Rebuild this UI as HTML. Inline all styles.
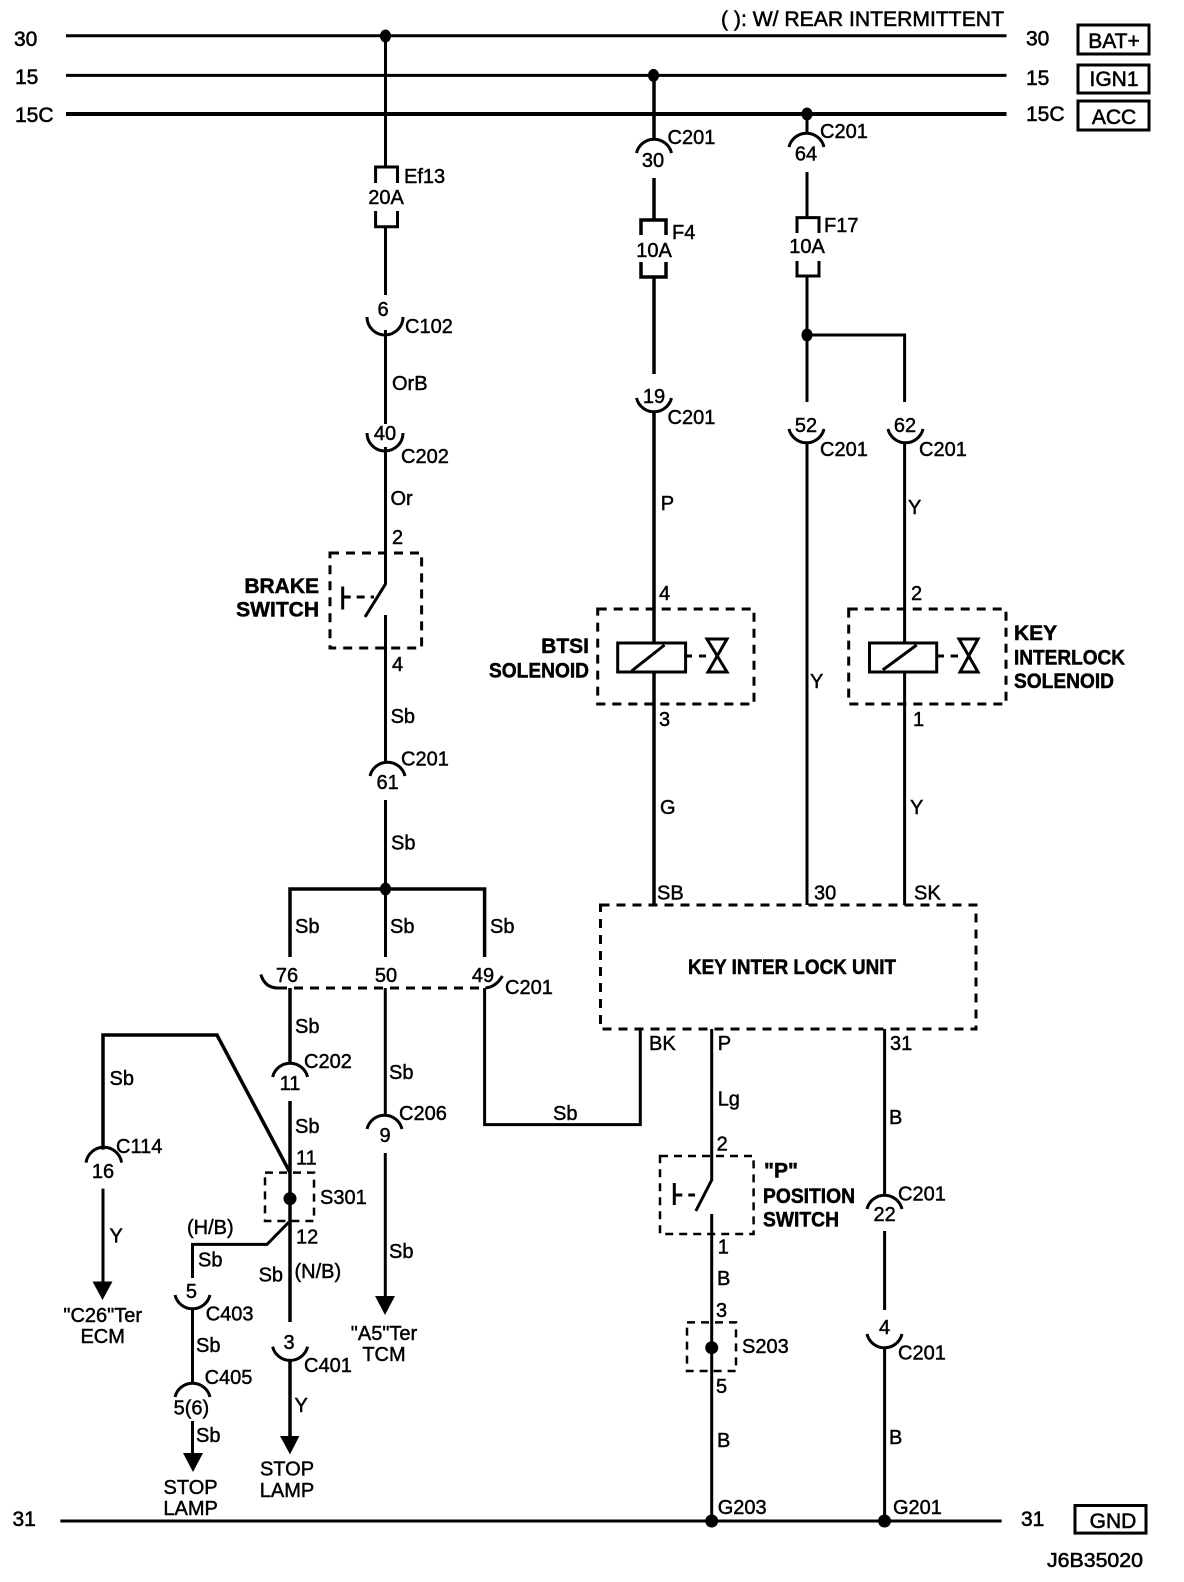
<!DOCTYPE html>
<html><head><meta charset="utf-8"><style>
html,body{margin:0;padding:0;background:#fff}
svg{display:block}
text{font-family:"Liberation Sans",sans-serif;font-size:20px;fill:#000;stroke:#000;stroke-width:.45px}
.n{font-size:21px;stroke-width:.55px}
.m{text-anchor:middle}
.b{font-weight:bold;font-size:21px;stroke-width:.5px}
.w{fill:none;stroke:#000;stroke-width:3;stroke-linecap:butt}
.t{fill:none;stroke:#000;stroke-width:4}
.d{fill:none;stroke:#000;stroke-width:3;stroke-dasharray:9 7}
.s{fill:none;stroke:#000;stroke-width:2.5;stroke-dasharray:8 6}
.f{fill:#000;stroke:none}
</style></head><body>
<svg width="1184" height="1582" viewBox="0 0 1184 1582" xmlns="http://www.w3.org/2000/svg">
<rect width="1184" height="1582" fill="#fff"/>
<!-- buses -->
<path class="w" d="M66 35.8H1006.5M66 75.4H1006.5"/>
<path class="t" d="M66 114H1006.5"/>
<path class="w" d="M60.4 1521H1001.6"/>
<text class="n" x="14" y="46">30</text><text class="n" x="15" y="84">15</text><text class="n" x="15" y="122">15C</text>
<text class="n" x="1026" y="45.6">30</text><text class="n" x="1026" y="85">15</text><text class="n" x="1026" y="121">15C</text>
<text class="n" x="12.5" y="1526">31</text><text class="n" x="1021" y="1526">31</text>
<text class="n" x="721" y="26" textLength="283" lengthAdjust="spacingAndGlyphs">( ): W/ REAR INTERMITTENT</text>
<rect class="w" x="1078" y="25" width="71" height="29"/><text class="n m" x="1114" y="48">BAT+</text>
<rect class="w" x="1078" y="65" width="71" height="28"/><text class="n m" x="1114" y="86">IGN1</text>
<rect class="w" x="1078" y="101" width="71" height="29"/><text class="n m" x="1114" y="124">ACC</text>
<rect class="w" x="1075" y="1505.5" width="71" height="27.6"/><text class="n m" x="1113" y="1528">GND</text>
<text x="1047" y="1567" textLength="96" lengthAdjust="spacingAndGlyphs" style="stroke-width:.55px">J6B35020</text>
<!-- dots -->
<ellipse class="f" cx="385.5" cy="36" rx="5.5" ry="6.5"/><ellipse class="f" cx="653.5" cy="75.4" rx="5.5" ry="6.5"/><ellipse class="f" cx="807" cy="114" rx="5.5" ry="6.5"/><ellipse class="f" cx="807" cy="335" rx="5.5" ry="6.5"/><ellipse class="f" cx="385.5" cy="889" rx="5.5" ry="6.5"/><circle class="f" cx="711.7" cy="1521" r="6.5"/><circle class="f" cx="884.5" cy="1521" r="6.5"/>
<!-- column 385 upper -->
<path class="w" d="M385.5 36V167M375.6 183V167H397.5V183M375.6 211V226.7H397.5V211M385.5 226.7V295"/>
<text x="404" y="183">Ef13</text><text class="m" x="386" y="204">20A</text>
<path class="w" d="M367 317A18 18 0 0 0 403 317"/><text class="m" x="383" y="316">6</text><text x="405" y="333">C102</text>
<path class="w" d="M385.5 330V424"/><text x="392" y="390">OrB</text>
<path class="w" d="M367 433A18 18 0 0 0 403 433"/><text class="m" x="385" y="440">40</text><text x="401" y="463">C202</text>
<path class="w" d="M385.5 447V584L365 617M385.5 615V761"/>
<text x="390.5" y="505">Or</text><text x="392" y="544">2</text>
<rect class="d" x="330" y="553" width="91.6" height="95"/>
<path class="w" d="M342.7 586.5V609.5"/><path class="w" stroke-dasharray="8 6" d="M342.7 597H374"/>
<text class="b" x="319" y="593" text-anchor="end">BRAKE</text><text class="b" x="319" y="616.6" text-anchor="end">SWITCH</text>
<text x="392" y="671">4</text><text x="390.6" y="723">Sb</text>
<path class="w" d="M370 776A18 18 0 0 1 405 776"/><text class="m" x="387.6" y="789">61</text><text x="401" y="765.7">C201</text>
<path class="w" d="M385.5 800V957"/><text x="391" y="849.5">Sb</text>
<path class="t" style="stroke-width:3.5" d="M290 957V889H484.6V957"/>
<text x="295" y="933">Sb</text><text x="390" y="933">Sb</text><text x="490" y="933">Sb</text>
<text class="m" x="287" y="982">76</text><text class="m" x="386" y="982">50</text><text class="m" x="483" y="982">49</text><text x="505" y="994">C201</text>
<path class="d" d="M278 988H485"/>
<path class="w" d="M260.8 974.5Q265 988 278 988M485.4 988Q496 987 502.4 976"/>
<path class="w" d="M290 988V1063" style="stroke-width:3.5"/>
<path class="w" d="M385.3 988V1115"/>
<path class="w" d="M484.6 988V1124.6H640.3V1029"/>
<!-- lower group, shifted -->
<g transform="translate(0,-9)">
<text x="295" y="1042">Sb</text>
<path class="w" d="M272.6 1086A18 18 0 0 1 307.6 1086"/><text class="m" x="290" y="1099">11</text><text x="304" y="1077">C202</text>
<path class="w" style="stroke-width:3.5" d="M290 1110V1331"/><text x="295" y="1142">Sb</text><text x="296" y="1173.4">11</text>
<rect class="s" x="265" y="1181.6" width="49" height="48.4"/>
<circle class="f" cx="290" cy="1207.6" r="6.5"/>
<text x="320" y="1213">S301</text><text x="296" y="1252.6">12</text>
<path class="t" style="stroke-width:3.5" d="M290 1181.6L217 1044H103V1158.6"/>
<text x="109.5" y="1094">Sb</text>
<path class="w" d="M86 1171.6A18 18 0 0 1 121.6 1171.6"/><text class="m" x="103" y="1187">16</text><text x="116" y="1162">C114</text>
<path class="w" d="M103 1197.6V1291"/><polygon class="f" points="92.5,1290.5 112.5,1290.5 102.5,1309"/>
<text x="109.5" y="1251.5">Y</text>
<text class="m" x="102.7" y="1331">"C26"Ter</text><text class="m" x="102.7" y="1352">ECM</text>
<path class="w" d="M289 1231L267 1253.4H192.5V1287"/>
<text x="187" y="1243">(H/B)</text><text x="198" y="1275.7">Sb</text><text x="258.6" y="1290.5">Sb</text><text x="294.5" y="1287">(N/B)</text>
<path class="w" d="M175 1304A18 18 0 0 0 210 1304"/><text class="m" x="191.4" y="1307">5</text><text x="205.7" y="1329.6">C403</text>
<path class="w" d="M192.5 1317V1392"/><text x="196" y="1361">Sb</text>
<path class="w" d="M175 1406A18 18 0 0 1 210 1406"/><text class="m" x="191.4" y="1423.6">5(6)</text><text x="204.6" y="1392.8">C405</text>
<path class="w" d="M192.5 1430V1463"/><polygon class="f" points="183,1462 203,1462 193,1481"/><text x="196" y="1451">Sb</text>
<text class="m" x="190.6" y="1503">STOP</text><text class="m" x="190.6" y="1524">LAMP</text>
<path class="w" d="M272.6 1355.6A18 18 0 0 0 307.6 1355.6"/><text class="m" x="289" y="1358">3</text><text x="304" y="1381">C401</text>
<path class="w" style="stroke-width:3.5" d="M290 1368.6V1446"/><polygon class="f" points="280,1445 299.4,1445 290,1463.4"/><text x="294.5" y="1421">Y</text>
<text class="m" x="287" y="1484.6">STOP</text><text class="m" x="287" y="1506">LAMP</text>
<text x="389" y="1088">Sb</text>
<path class="w" d="M367 1138A18 18 0 0 1 402 1138"/><text class="m" x="385" y="1151">9</text><text x="399" y="1129">C206</text>
<path class="w" d="M385.3 1162V1306"/><polygon class="f" points="375,1305 395,1305 385,1324"/><text x="389" y="1267">Sb</text>
<text class="m" x="384" y="1349">"A5"Ter</text><text class="m" x="384" y="1370">TCM</text>
<text x="553" y="1129">Sb</text>
<text x="649" y="1059">BK</text><text x="717.7" y="1059">P</text><text x="890" y="1059">31</text>
<text x="717.7" y="1114.7">Lg</text><text x="716.6" y="1159.7">2</text>
<rect class="s" x="660" y="1165" width="93.6" height="78"/>
<path class="w" d="M674.3 1192V1214"/><path class="w" stroke-dasharray="8 6" d="M674.3 1204H695"/>
<text class="b" x="764" y="1186.4">"P"</text><text class="b" x="763" y="1212" textLength="92" lengthAdjust="spacingAndGlyphs">POSITION</text><text class="b" x="763" y="1235.5" textLength="76" lengthAdjust="spacingAndGlyphs">SWITCH</text>
<text x="717.7" y="1262.6">1</text><text x="717" y="1294">B</text><text x="716" y="1326">3</text>
<rect class="s" x="687" y="1331.4" width="49" height="48.6"/><circle class="f" cx="711.7" cy="1356.7" r="6.5"/><text x="742" y="1362">S203</text>
<text x="716" y="1402">5</text><text x="717" y="1456">B</text><text x="717.7" y="1523">G203</text>
<text x="889" y="1133">B</text>
<path class="w" d="M867 1218A18 18 0 0 1 902 1218"/><text class="m" x="884.6" y="1230">22</text><text x="898" y="1209.5">C201</text>
<path class="w" d="M884.6 1240V1319"/>
<path class="w" d="M867 1343A18 18 0 0 0 902 1343"/><text class="m" x="884.6" y="1343">4</text><text x="898" y="1368.6">C201</text>
<text x="889" y="1453">B</text><text x="893" y="1523">G201</text>
</g>
<!-- col 654 -->
<path class="w" style="stroke-width:3.5" d="M654 75V139"/>
<path class="w" d="M636.5 153A18 18 0 0 1 671.5 153"/><text class="m" x="653" y="167">30</text><text x="667.5" y="144">C201</text>
<path class="w" style="stroke-width:3.5" d="M654 178V220M641 235V220H666V235M641 262V277H666V262M654 277V374"/>
<text x="672" y="239">F4</text><text class="m" x="654" y="257">10A</text>
<path class="w" d="M636.5 398A18 18 0 0 0 671.5 398"/><text class="m" x="654" y="403">19</text><text x="667.5" y="424">C201</text>
<path class="w" style="stroke-width:3.5" d="M654 412V643M654 672V905"/>
<text x="660.7" y="510">P</text><text x="659" y="600">4</text><text x="659" y="726">3</text><text x="660" y="814">G</text><text x="657" y="899.5">SB</text>
<rect class="d" x="597.7" y="609" width="156.3" height="95"/>
<rect class="w" x="617.7" y="643" width="67.9" height="29"/><path class="w" d="M631.6 671L664.5 645"/>
<path class="w" d="M685.6 656H692M699 656H706"/>
<path class="w" d="M707 639H727L708 672H727Z"/>
<text class="b" x="589" y="653" text-anchor="end">BTSI</text><text class="b" x="589" y="677.5" text-anchor="end" textLength="100" lengthAdjust="spacingAndGlyphs">SOLENOID</text>
<!-- col 807 -->
<path class="w" d="M807 114V134"/>
<path class="w" d="M789 147A18 18 0 0 1 824 147"/><text class="m" x="806" y="160.5">64</text><text x="820" y="138">C201</text>
<path class="w" d="M807 172V217.6M797 233V217.6H819V233M797 261V276H819V261M807 276V402M807 335H904.6V402"/>
<text x="824" y="232">F17</text><text class="m" x="807" y="253">10A</text>
<path class="w" d="M789 429A18 18 0 0 0 824 429"/><text class="m" x="806" y="432">52</text><text x="820" y="456">C201</text>
<path class="w" d="M807 443V905"/><text x="810" y="688">Y</text><text x="814" y="899.5">30</text>
<path class="w" d="M888 429A18 18 0 0 0 923 429"/><text class="m" x="905" y="432">62</text><text x="919" y="456">C201</text>
<path class="w" d="M904.6 443V643M904.6 672V905"/>
<text x="908" y="514">Y</text><text x="911" y="600">2</text><text x="913" y="726">1</text><text x="910" y="814">Y</text><text x="914" y="899.5">SK</text>
<rect class="d" x="848.7" y="609" width="157.3" height="95"/>
<rect class="w" x="869.5" y="643" width="67.2" height="29"/><path class="w" d="M882.7 670L916.7 645"/>
<path class="w" d="M936.7 656H944M950.6 656H958"/>
<path class="w" d="M959 639H978L960 672H978Z"/>
<text class="b" x="1014" y="640">KEY</text><text class="b" x="1014" y="664.6" textLength="111" lengthAdjust="spacingAndGlyphs">INTERLOCK</text><text class="b" x="1014" y="688" textLength="100" lengthAdjust="spacingAndGlyphs">SOLENOID</text>
<!-- key interlock unit -->
<rect class="d" x="600.5" y="905" width="375.5" height="124"/>
<text class="b" x="688" y="974" textLength="208" lengthAdjust="spacingAndGlyphs">KEY INTER LOCK UNIT</text>
<!-- lower wires -->
<path class="w" d="M711.7 1029V1180L695.8 1211M711.7 1214V1521"/>
<path class="w" d="M884.6 1029V1194M884.6 1347V1521"/>
</svg>
</body></html>
